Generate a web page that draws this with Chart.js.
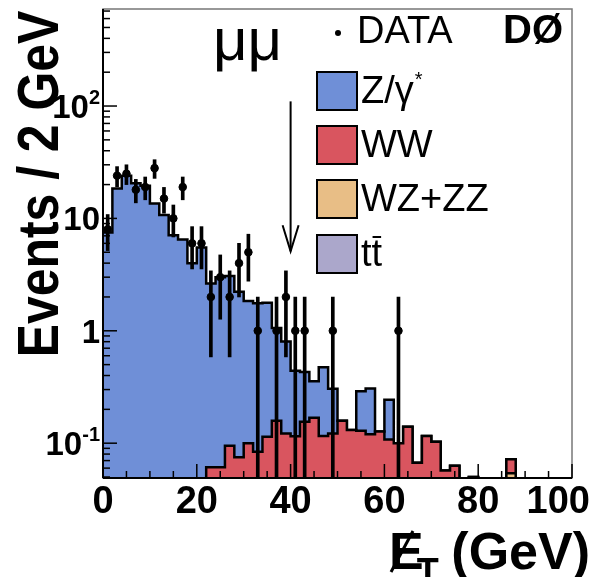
<!DOCTYPE html>
<html>
<head>
<meta charset="utf-8">
<script src="https://cdn.jsdelivr.net/npm/chart.js@4.4.1/dist/chart.umd.min.js"></script>
<style>
  html, body { margin: 0; padding: 0; background: #fff; }
  #wrap { width: 603px; height: 577px; }
</style>
</head>
<body>
<div id="wrap"><canvas id="c" width="603" height="577"></canvas></div>
<script>
// 2 GeV bins, 0..100 GeV
const binEdges = [0,2,4,6,8,10,12,14,16,18,20,22,24,26,28,30,32,34,36,38,40,
  42,44,46,48,50,52,54,56,58,60,62,64,66,68,70,72,74,76,78,80,
  82,84,86,88,90,92,94,96,98,100];

// expected events per bin
const zgamma = [7.5,18.5,24,20.5,19.5,13.6,10.7,7.1,6.5,4.0,
  5.5,2.58,2.93,2.98,2.15,1.74,1.67,1.66,0.90,0.68,
  0.325,0.275,0.187,0.359,0.183,0,0,0.161,0.187,0,
  0.135,0,0,0,0,0,0,0,0,0, 0,0,0,0,0,0,0,0,0,0];
const ww = [0,0,0,0,0,0,0,0,0,0,
  0,0.061,0.061,0.095,0.075,0.10,0.084,0.114,0.158,0.122,
  0.115,0.155,0.168,0.116,0.122,0.158,0.131,0.129,0.12,0.127,
  0.108,0.10,0.14,0.067,0.116,0.103,0.057,0.063,0,0.05,
  0,0,0,0.018,0,0,0,0,0,0];
const wzzz = [0,0,0,0,0,0,0,0,0,0, 0,0,0,0,0,0,0,0,0,0,
  0,0,0,0,0,0,0,0,0,0, 0,0,0,0,0,0,0,0,0,0,
  0,0,0,0.054,0,0,0,0,0,0];
const ttbar = [0,0,0,0,0,0,0,0,0,0, 0,0,0,0,0,0,0,0,0,0,
  0,0,0,0,0,0,0,0,0,0, 0,0,0,0,0,0,0,0,0,0,
  0,0,0,0,0,0,0,0,0,0];
const dataCounts = [8,24,25,18,19,28,15,10,19,6,
  6,2,3,2,4,5,1,0,1,2,
  1,1,0,0,1,0,0,0,0,0,
  0,1,0,0,0,0,0,0,0,0, 0,0,0,0,0,0,0,0,0,0];

const xTickValues = [0, 20, 40, 60, 80, 100];
const xTickLabels = ['0', '20', '40', '60', '80', '100'];
const yTickValues = [0.1, 1, 10, 100];
const yTickBase = ['10', '1', '10', '10'];
const yTickSup = ['-1', '', '', '2'];

const legendNames = ['Z/\u03b3', 'WW', 'WZ+ZZ', 'tt'];
const cutValue = 40;           // arrow position (GeV)
const arrowRange = [110, 5.1]; // arrow from / to (events)

const COL_Z = '#6f8fd7';
const COL_WW = '#d9555f';
const COL_WZ = '#e8be86';
const COL_TT = '#aba7cb';
const FLOOR = 1e-3;
const FONT = '"Liberation Sans", Arial, Helvetica, sans-serif';

// cumulative stacks, bottom to top
const cumTT = ttbar.slice();
const cumWZ = wzzz.map((v, i) => v + cumTT[i]);
const cumWW = ww.map((v, i) => v + cumWZ[i]);
const cumZ  = zgamma.map((v, i) => v + cumWW[i]);

function steps(vals) {
  return binEdges.map((e, i) => ({ x: e, y: Math.max(vals[Math.min(i, vals.length - 1)], FLOOR) }));
}

function histSet(label, vals, color, order) {
  return {
    type: 'line', label, data: steps(vals), stepped: 'before',
    borderColor: '#000', borderWidth: 2.5, backgroundColor: color,
    fill: 'start', pointRadius: 0, order, clip: 0
  };
}

const points = [];
const errors = [];
dataCounts.forEach((n, i) => {
  if (n <= 0) return;
  const c = (binEdges[i] + binEdges[i + 1]) / 2;
  const e = Math.sqrt(n);
  points.push({ x: c, y: n });
  errors.push({ x: c, y: [Math.max(n - e, FLOOR), n + e] });
});

const decor = {
  id: 'decor',
  afterDraw(chart) {
    const { ctx, chartArea: a, scales: { x, y } } = chart;
    const line = (x1, y1, x2, y2) => { ctx.beginPath(); ctx.moveTo(x1, y1); ctx.lineTo(x2, y2); ctx.stroke(); };
    ctx.save();

    // frame
    ctx.strokeStyle = '#777'; ctx.lineWidth = 1.5;
    ctx.strokeRect(a.left, a.top, a.right - a.left, a.bottom - a.top);
    ctx.strokeStyle = '#000'; ctx.lineWidth = 2;
    line(a.left, a.top, a.left, a.bottom);
    line(a.left, a.bottom, a.right, a.bottom);

    // inside ticks
    ctx.lineWidth = 1.5;
    for (let e = -2; e <= 3; e++) {
      for (let k = 1; k <= 9; k++) {
        const v = k * Math.pow(10, e);
        if (v < y.min || v > y.max) continue;
        const py = y.getPixelForValue(v);
        line(a.left, py, a.left + (k === 1 ? 14 : 7), py);
      }
    }
    for (let v = 0; v <= 100; v += 5) {
      const px = x.getPixelForValue(v);
      line(px, a.bottom, px, a.bottom - (v % 20 === 0 ? 14 : 7));
    }

    ctx.fillStyle = '#000';
    // x tick labels
    ctx.font = 'bold 38px ' + FONT;
    ctx.textBaseline = 'alphabetic';
    ctx.textAlign = 'center';
    xTickValues.forEach((v, i) => {
      const w = ctx.measureText(xTickLabels[i]).width;
      const px = Math.min(x.getPixelForValue(v), 590 - w / 2);
      ctx.fillText(xTickLabels[i], px, 513);
    });

    // y tick labels with superscripts
    ctx.textAlign = 'left';
    yTickValues.forEach((v, i) => {
      const py = y.getPixelForValue(v);
      ctx.font = 'bold 20px ' + FONT;
      const ws = yTickSup[i] ? ctx.measureText(yTickSup[i]).width : 0;
      ctx.font = 'bold 33px ' + FONT;
      const wb = ctx.measureText(yTickBase[i]).width;
      const x0 = 100 - ws - wb;
      ctx.fillText(yTickBase[i], x0, py + 12);
      if (yTickSup[i]) {
        ctx.font = 'bold 20px ' + FONT;
        ctx.fillText(yTickSup[i], x0 + wb, py - 2);
      }
    });

    // y title
    ctx.save();
    ctx.translate(58, 184);
    ctx.rotate(-Math.PI / 2);
    ctx.scale(0.86, 1);
    ctx.textAlign = 'center';
    ctx.font = 'bold 58px ' + FONT;
    ctx.fillText('Events / 2 GeV', 0, 0);
    ctx.restore();

    // x title: missing E_T (GeV)
    ctx.font = 'bold 52px ' + FONT;
    ctx.textAlign = 'right';
    ctx.fillText('(GeV)', 590, 569);
    ctx.textAlign = 'left';
    ctx.fillText('E', 389, 569);
    const wE = ctx.measureText('E').width;
    ctx.font = 'bold 36px ' + FONT;
    ctx.fillText('T', 389 + wE - 7, 584);
    ctx.lineWidth = 3;
    line(391, 572, 413, 531);

    // arrow at the cut
    const ax = x.getPixelForValue(cutValue);
    const ay1 = y.getPixelForValue(arrowRange[0]);
    const ay2 = y.getPixelForValue(arrowRange[1]);
    ctx.lineWidth = 2;
    line(ax, ay1, ax, ay2);
    ctx.beginPath();
    ctx.moveTo(ax - 8, ay2 - 26); ctx.lineTo(ax, ay2); ctx.lineTo(ax + 8, ay2 - 26);
    ctx.stroke();

    // channel + experiment labels
    ctx.font = '60px ' + FONT;
    ctx.fillText('\u03bc\u03bc', 213, 60);
    ctx.font = 'bold 40px ' + FONT;
    ctx.textAlign = 'right';
    ctx.fillText('D\u00d8', 563, 43);

    // legend
    ctx.textAlign = 'left';
    ctx.beginPath(); ctx.arc(338, 33, 3, 0, Math.PI * 2); ctx.fill();
    ctx.font = '38px ' + FONT;
    ctx.fillText('DATA', 357, 43);
    const cols = [COL_Z, COL_WW, COL_WZ, COL_TT];
    const tops = [72, 126, 180, 235];
    legendNames.forEach((name, i) => {
      const t = tops[i];
      ctx.fillStyle = cols[i];
      ctx.fillRect(317, t, 40, 38);
      ctx.strokeStyle = '#000'; ctx.lineWidth = 2;
      ctx.strokeRect(317, t, 40, 38);
      ctx.fillStyle = '#000';
      ctx.font = '38px ' + FONT;
      ctx.fillText(name, 361, t + 31);
      const w = ctx.measureText(name).width;
      if (i === 0) {
        ctx.font = '20px ' + FONT;
        ctx.fillText('*', 361 + w + 1, t + 14);
      }
      if (i === 3) {
        const wt = ctx.measureText('t').width;
        ctx.lineWidth = 2;
        line(361 + wt + 1, t + 2, 361 + 2 * wt - 1, t + 2);
      }
    });
    ctx.restore();
  }
};

new Chart(document.getElementById('c'), {
  type: 'line',
  data: {
    datasets: [
      { type: 'line', label: 'DATA', data: points, showLine: false, pointRadius: 3.8,
        pointBackgroundColor: '#000', pointBorderColor: '#000', order: 1, clip: 0 },
      { type: 'bar', label: 'err', data: errors, backgroundColor: '#000', barThickness: 3,
        grouped: false, order: 2, clip: 0 },
      histSet('ttbar', cumTT, COL_TT, 7),
      histSet('WZ+ZZ', cumWZ, COL_WZ, 8),
      histSet('WW', cumWW, COL_WW, 9),
      histSet('Z/gamma*', cumZ, COL_Z, 10)
    ]
  },
  options: {
    responsive: false,
    animation: false,
    layout: { padding: { left: 0, right: 31, top: 9, bottom: 0 } },
    plugins: { legend: { display: false }, tooltip: { enabled: false } },
    scales: {
      x: {
        type: 'linear', min: 0, max: 100, offset: false,
        ticks: { display: false }, grid: { display: false }, border: { display: false },
        afterFit: s => { s.height = 99; }
      },
      y: {
        type: 'logarithmic', min: 0.049, max: 730,
        ticks: { display: false }, grid: { display: false }, border: { display: false },
        afterFit: s => { s.width = 103; }
      }
    }
  },
  plugins: [decor]
});
</script>
</body>
</html>
